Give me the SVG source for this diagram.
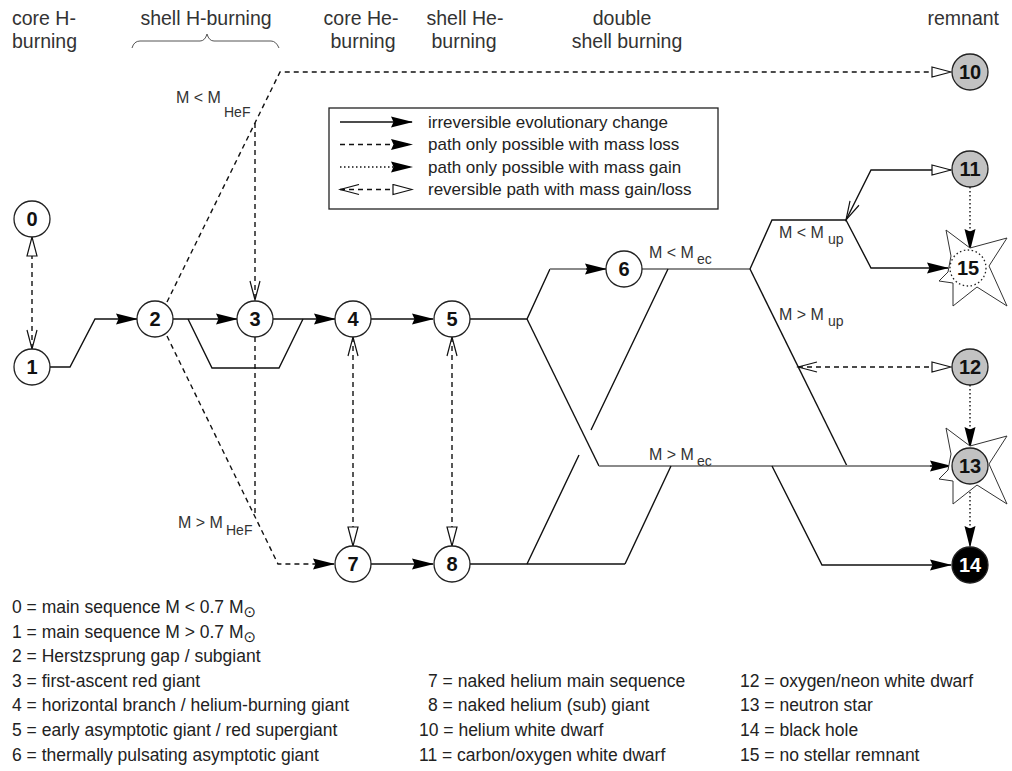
<svg xmlns="http://www.w3.org/2000/svg" xmlns:xlink="http://www.w3.org/1999/xlink" width="1012" height="771" viewBox="0 0 1012 771">
<style>
text{font-family:"Liberation Sans","DejaVu Sans",Arial,sans-serif}
.hdr{font-size:19.5px;fill:#333}
.txt{font-size:17.5px;fill:#222}
.lt{font-size:17px;fill:#222}
.lab{font-size:16px;fill:#333}
.sub{font-size:14px}
.nl{font-size:20px;font-weight:bold;text-anchor:middle;fill:#111}
.nc{fill:#fff;stroke:#222;stroke-width:1.3}
.gr{fill:#c2c2c2}
.bk{fill:#000}
.s{fill:none;stroke:#111;stroke-width:1.4}
.gl{fill:none;stroke:#8a8a8a;stroke-width:2.2}
.d{stroke-dasharray:5,4}
.o{stroke-dasharray:1.5,2.5}
.af{marker-end:url(#af)}
.ao{marker-end:url(#ao)}
.cs{marker-start:url(#ch)}
.ce{marker-end:url(#ch)}
</style>
<defs>
<marker id="af" markerUnits="userSpaceOnUse" viewBox="0 0 22 12" markerWidth="22" markerHeight="12" refX="21" refY="6" orient="auto-start-reverse"><path d="M0,0.5 L22,6 L0,11.5 L2.5,6 z" fill="#000"/></marker>
<marker id="ao" markerUnits="userSpaceOnUse" viewBox="0 0 22 12" markerWidth="22" markerHeight="12" refX="20" refY="6" orient="auto-start-reverse"><path d="M1,1 L20,6 L1,11 z" fill="#fff" stroke="#111" stroke-width="1.2"/></marker>
<marker id="ch" markerUnits="userSpaceOnUse" viewBox="0 0 22 12" markerWidth="22" markerHeight="12" refX="20" refY="6" orient="auto-start-reverse"><path d="M1,1 L20,6 L1,11" fill="none" stroke="#111" stroke-width="1.2"/></marker>
<polygon id="star" points="-22,-38 2,-20 39,-30 21,-2 39,38 9,19 -15,38 -15,15 -29,13 -20,4 -17,-12" fill="#fff" stroke="#333" stroke-width="1"/>
</defs>

<g id="headers">
<text class="hdr" x="12" y="25">core H-</text>
<text class="hdr" x="12" y="48">burning</text>
<text class="hdr" x="206" y="25" text-anchor="middle">shell H-burning</text>
<path d="M132,48 Q134,41 140,41 L200,41 Q205,41 207,34 Q209,41 214,41 L271,41 Q276,41 279,48" fill="none" stroke="#555" stroke-width="1"/>
<text class="hdr" x="361" y="25" text-anchor="middle">core He-</text>
<text class="hdr" x="363" y="48" text-anchor="middle">burning</text>
<text class="hdr" x="465" y="25" text-anchor="middle">shell He-</text>
<text class="hdr" x="464" y="48" text-anchor="middle">burning</text>
<text class="hdr" x="622" y="25" text-anchor="middle">double</text>
<text class="hdr" x="627" y="48" text-anchor="middle">shell burning</text>
<text class="hdr" x="999" y="25" text-anchor="end">remnant</text>
</g>

<g id="legend">
<rect x="329" y="108" width="389" height="101" fill="#fff" stroke="#222" stroke-width="1.3"/>
<path class="s af" d="M340,122 L412,122"/>
<path class="s d af" d="M340,144.5 L412,144.5"/>
<path class="s o af" d="M340,167 L412,167"/>
<path class="s d cs ao" d="M340,189.5 L412,189.5"/>
<text class="lt" x="428" y="127.5">irreversible evolutionary change</text>
<text class="lt" x="428" y="150">path only possible with mass loss</text>
<text class="lt" x="428" y="172.5">path only possible with mass gain</text>
<text class="lt" x="428" y="195">reversible path with mass gain/loss</text>
</g>

<g id="connectors">
<path class="s d cs ao" d="M32,349 L32,237"/>
<path class="s af" d="M50,367 L70,367 L95,319 L137,319"/>
<path class="s af" d="M173,319 L237,319"/>
<path class="s af" d="M273,319 L335,319"/>
<path class="s" d="M188,319 L212,368 L279,368 L303,319"/>
<path class="s af" d="M371,319 L433,319"/>
<path class="s" d="M470,319 L527,319 L550,269"/>
<path class="gl" d="M550,269 L588,269"/>
<path class="s af" d="M586,269 L606,269"/>
<path class="s" d="M527,319 L599,466"/>
<path class="gl" d="M642,269 L750,269"/>
<path class="s" d="M750,269 L772,220 L846,220"/>
<path class="s cs ao" d="M846,220 L871,170 L951,170"/>
<path class="s af" d="M846,220 L871,268 L948,268"/>
<path class="s" d="M750,269 L847,466"/>
<path class="s d cs ao" d="M798,367 L951,367"/>
<path class="gl" d="M599,466 L935,466"/>
<path class="s af" d="M930,466 L951,466"/>
<path class="s af" d="M772,466 L822,565 L951,565"/>
<path class="s" d="M470,564 L625,564"/>
<path class="s" d="M527,564 L579,455 M591,430 L668,269"/>
<path class="s" d="M625,564 L671,466"/>
<path class="s af" d="M371,564 L433,564"/>
<path class="s d af" d="M167,336 L278,564 L334,564"/>
<path class="s d" d="M255,337 L255,513"/>
<path class="s d ao" d="M167,302 L280,72 L951,72"/>
<path class="s d ce" d="M255,123 L255,300"/>
<path class="s d cs ao" d="M353,337 L353,546"/>
<path class="s d cs ao" d="M452,337 L452,546"/>
<path class="s o af" d="M970,187 L970,250"/>
<path class="s o af" d="M970,385 L970,448"/>
<path class="s o af" d="M970,484 L970,547"/>
</g>

<g id="conditions">
<text class="lab" x="176" y="103">M &lt; M</text><text class="lab sub" x="224" y="117">HeF</text>
<text class="lab" x="178" y="528">M &gt; M</text><text class="lab sub" x="226" y="535">HeF</text>
<text class="lab" x="649" y="258">M &lt; M</text><text class="lab sub" x="697" y="264">ec</text>
<text class="lab" x="649" y="460">M &gt; M</text><text class="lab sub" x="697" y="466">ec</text>
<text class="lab" x="779" y="238">M &lt; M</text><text class="lab sub" x="828" y="244">up</text>
<text class="lab" x="779" y="320">M &gt; M</text><text class="lab sub" x="828" y="326">up</text>
</g>

<g id="n0"><circle class="nc" cx="32" cy="219" r="18"/><text class="nl" x="32" y="226">0</text></g>
<g id="n1"><circle class="nc" cx="32" cy="367" r="18"/><text class="nl" x="32" y="374">1</text></g>
<g id="n2"><circle class="nc" cx="155" cy="319" r="18"/><text class="nl" x="155" y="326">2</text></g>
<g id="n3"><circle class="nc" cx="255" cy="319" r="18"/><text class="nl" x="255" y="326">3</text></g>
<g id="n4"><circle class="nc" cx="353" cy="319" r="18"/><text class="nl" x="353" y="326">4</text></g>
<g id="n5"><circle class="nc" cx="452" cy="319" r="18"/><text class="nl" x="452" y="326">5</text></g>
<g id="n6"><circle class="nc" cx="624" cy="269" r="18"/><text class="nl" x="624" y="276">6</text></g>
<g id="n7"><circle class="nc" cx="353" cy="564" r="18"/><text class="nl" x="353" y="571">7</text></g>
<g id="n8"><circle class="nc" cx="452" cy="564" r="18"/><text class="nl" x="452" y="571">8</text></g>
<g id="n10"><circle class="nc gr" cx="970" cy="72" r="18"/><text class="nl" x="970" y="79">10</text></g>
<g id="n11"><circle class="nc gr" cx="970" cy="169" r="18"/><text class="nl" x="970" y="176">11</text></g>
<g id="n15"><use xlink:href="#star" x="968" y="268"/><circle cx="968" cy="268" r="18" fill="none" stroke="#222" stroke-width="1.3" stroke-dasharray="1.5,2.5"/><text class="nl" x="968" y="275">15</text></g>
<g id="n12"><circle class="nc gr" cx="970" cy="367" r="18"/><text class="nl" x="970" y="374">12</text></g>
<g id="n13"><use xlink:href="#star" x="968" y="466"/><circle class="nc gr" cx="970" cy="466" r="18"/><text class="nl" x="970" y="473">13</text></g>
<g id="n14"><circle class="nc bk" cx="970" cy="565" r="18"/><text class="nl" x="970" y="572" style="fill:#fff">14</text></g>

<g id="key">
<text class="txt" x="12" y="613">0 = main sequence M &lt; 0.7 M<tspan dy="4" font-size="15">⊙</tspan></text>
<text class="txt" x="12" y="637.6">1 = main sequence M &gt; 0.7 M<tspan dy="4" font-size="15">⊙</tspan></text>
<text class="txt" x="12" y="662.2">2 = Herstzsprung gap / subgiant</text>
<text class="txt" x="12" y="686.8">3 = first-ascent red giant</text>
<text class="txt" x="12" y="711.4">4 = horizontal branch / helium-burning giant</text>
<text class="txt" x="12" y="736">5 = early asymptotic giant / red supergiant</text>
<text class="txt" x="12" y="760.6">6 = thermally pulsating asymptotic giant</text>
<text class="txt" x="428" y="686.8">7 = naked helium main sequence</text>
<text class="txt" x="428" y="711.4">8 = naked helium (sub) giant</text>
<text class="txt" x="419" y="736">10 = helium white dwarf</text>
<text class="txt" x="419" y="760.6">11 = carbon/oxygen white dwarf</text>
<text class="txt" x="740" y="686.8">12 = oxygen/neon white dwarf</text>
<text class="txt" x="740" y="711.4">13 = neutron star</text>
<text class="txt" x="740" y="736">14 = black hole</text>
<text class="txt" x="740" y="760.6">15 = no stellar remnant</text>
</g>
</svg>
